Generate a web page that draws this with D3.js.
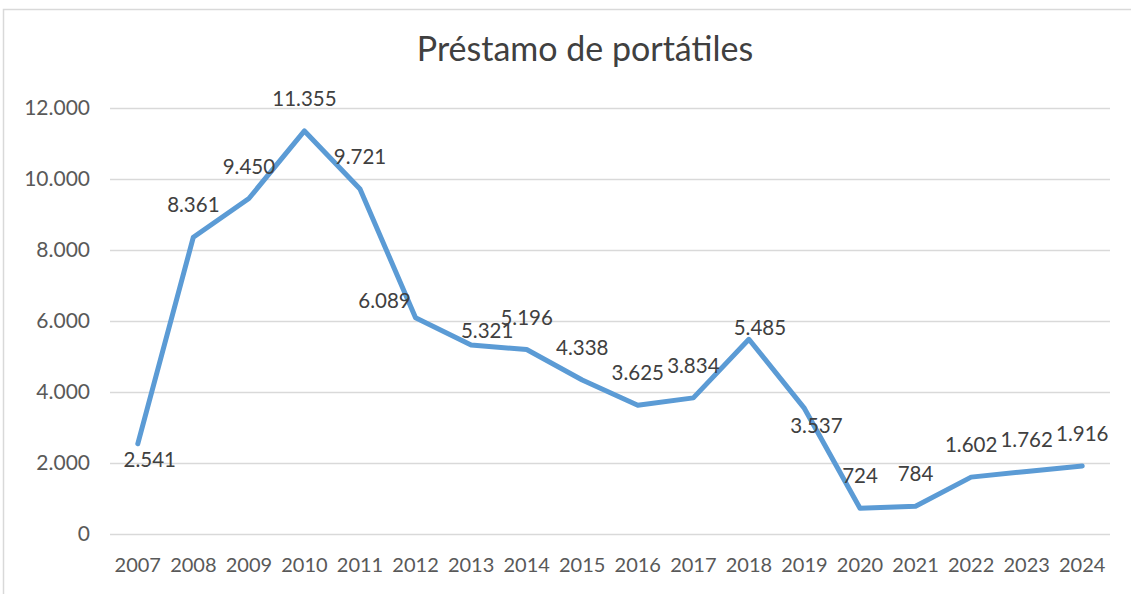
<!DOCTYPE html>
<html>
<head>
<meta charset="utf-8">
<script src="https://cdn.jsdelivr.net/npm/d3@7"></script>
<style>
  body { margin: 0; background: #fff; }
  svg { display: block; }
</style>
</head>
<body>
<script>
const years = ["2007", "2008", "2009", "2010", "2011", "2012", "2013", "2014", "2015",
  "2016", "2017", "2018", "2019", "2020", "2021", "2022", "2023", "2024"];
const loans = [2541, 8361, 9450, 11355, 9721, 6089, 5321, 5196, 4338,
  3625, 3834, 5485, 3537, 724, 784, 1602, 1762, 1916];
const yTicks = [0, 2000, 4000, 6000, 8000, 10000, 12000];
const title = "Préstamo de portátiles";

const w = 1131;
const h = 594;
const font = "Lato, 'Open Sans', sans-serif";

const es = d3.formatLocale({ decimal: ",", thousands: ".", grouping: [3], currency: ["", " €"] });
const fmt = es.format(",d");

const svg = d3.select("body").append("svg")
  .attr("width", w)
  .attr("height", h);

// * FRAME
svg.append("rect")
  .attr("x", 3.5).attr("y", 9.5)
  .attr("width", w + 20).attr("height", h + 20)
  .attr("fill", "#fff")
  .attr("stroke", "#d9d9d9")
  .attr("stroke-width", 1.5);

// * SCALES
const xScale = d3.scaleBand().domain(years).range([110, 1110]);
const yScale = d3.scaleLinear().domain([0, 12000]).range([534, 108]);
const cx = (d) => xScale(d) + xScale.bandwidth() / 2;

// * TITLE
svg.append("text")
  .attr("x", 585).attr("y", 61)
  .attr("text-anchor", "middle")
  .attr("font-family", font)
  .attr("font-size", 34)
  .attr("fill", "#404040")
  .text(title);

// * GRID + Y AXIS
const yAxis = d3.axisLeft(yScale)
  .tickValues(yTicks)
  .tickSize(-1000)
  .tickPadding(20)
  .tickFormat(fmt);
const gy = svg.append("g")
  .attr("transform", "translate(110,0)")
  .call(yAxis);
gy.select(".domain").remove();
gy.selectAll(".tick line").attr("stroke", "#d9d9d9").attr("stroke-width", 1.5);
gy.selectAll(".tick text")
  .attr("font-family", font)
  .attr("font-size", 21)
  .attr("fill", "#595959");

// * X AXIS
const xAxis = d3.axisBottom(xScale).tickSize(0).tickPadding(24);
const gx = svg.append("g")
  .attr("transform", "translate(0,534)")
  .call(xAxis);
gx.select(".domain").remove();
gx.selectAll(".tick text")
  .attr("font-family", font)
  .attr("font-size", 20)
  .attr("fill", "#595959");

// * LINE
const points = years.map((y, i) => ({ year: y, value: loans[i] }));
const line = d3.line()
  .x((d) => cx(d.year))
  .y((d) => yScale(d.value));
svg.append("path")
  .datum(points)
  .attr("d", line)
  .attr("fill", "none")
  .attr("stroke", "#5b9bd5")
  .attr("stroke-width", 5)
  .attr("stroke-linejoin", "round")
  .attr("stroke-linecap", "round");

// * DATA LABELS (default above, a few moved like in the original)
const nudge = {
  "2007": [12, 16], "2012": [-31, -17], "2013": [16, -14],
  "2018": [11, -11], "2019": [12, 17]
};
svg.append("g")
  .selectAll("text")
  .data(points)
  .join("text")
  .attr("x", (d) => cx(d.year) + (nudge[d.year] ? nudge[d.year][0] : 0))
  .attr("y", (d) => yScale(d.value) + (nudge[d.year] ? nudge[d.year][1] : -32))
  .attr("dy", "0.35em")
  .attr("text-anchor", "middle")
  .attr("font-family", font)
  .attr("font-size", 20.5)
  .attr("fill", "#404040")
  .text((d) => fmt(d.value));
</script>
</body>
</html>
